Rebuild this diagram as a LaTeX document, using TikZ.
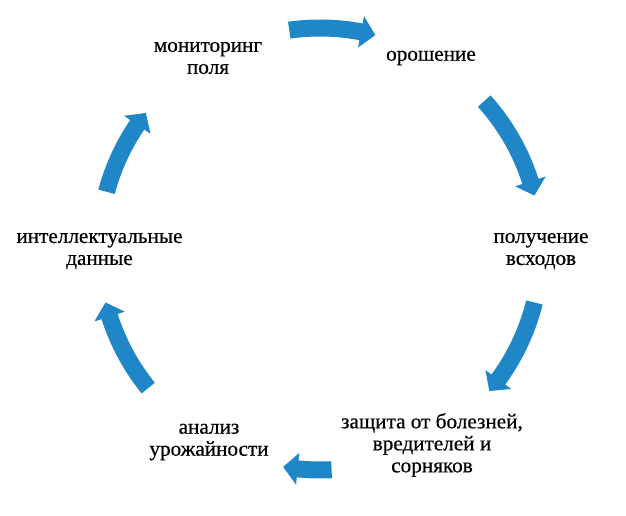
\documentclass[tikz,border=0pt]{standalone}
\usepackage{fontspec}
\newfontfamily\lblfont{Liberation Serif}[FakeBold=0.5]
\definecolor{arrowblue}{RGB}{31,134,200}
\newcommand\cycarrow[2]{%
  \fill[arrowblue,shift={(C)}] (#1:229.5) arc[start angle=#1,end angle={#2+3.8},radius=229.5]
    -- ({#2+3.8}:237) -- (#2:221) -- ({#2+3.8}:205) -- ({#2+3.8}:212.5)
    arc[start angle={#2+3.8},end angle=#1,radius=212.5] -- cycle;}
\begin{document}
\begin{tikzpicture}[x=1pt,y=1pt,
  lbl/.style={align=center,inner sep=0pt,font=\lblfont\fontsize{21.2}{22}\selectfont}]
\useasboundingbox (0,0) rectangle (626,516);
\coordinate (C) at (320,267);
\node[lbl] (mon) at (208,458) {мониторинг\\поля};
\node[lbl] (oro) at (431,458) {орошение};
\node[lbl] (pol) at (541,265) {получение\\всходов};
\node[lbl] (zas) at (432,71) {защита от болезней,\\вредителей и\\сорняков};
\node[lbl] (ana) at (209,74) {анализ\\урожайности};
\node[lbl] (int) at (99.5,265) {интеллектуальные\\данные};
\cycarrow{98}{75.5}
\cycarrow{42}{14}
\cycarrow{-14}{-40}
\cycarrow{-87}{-99.6}
\cycarrow{-141}{-166}
\cycarrow{165}{142}
\end{tikzpicture}
\end{document}
